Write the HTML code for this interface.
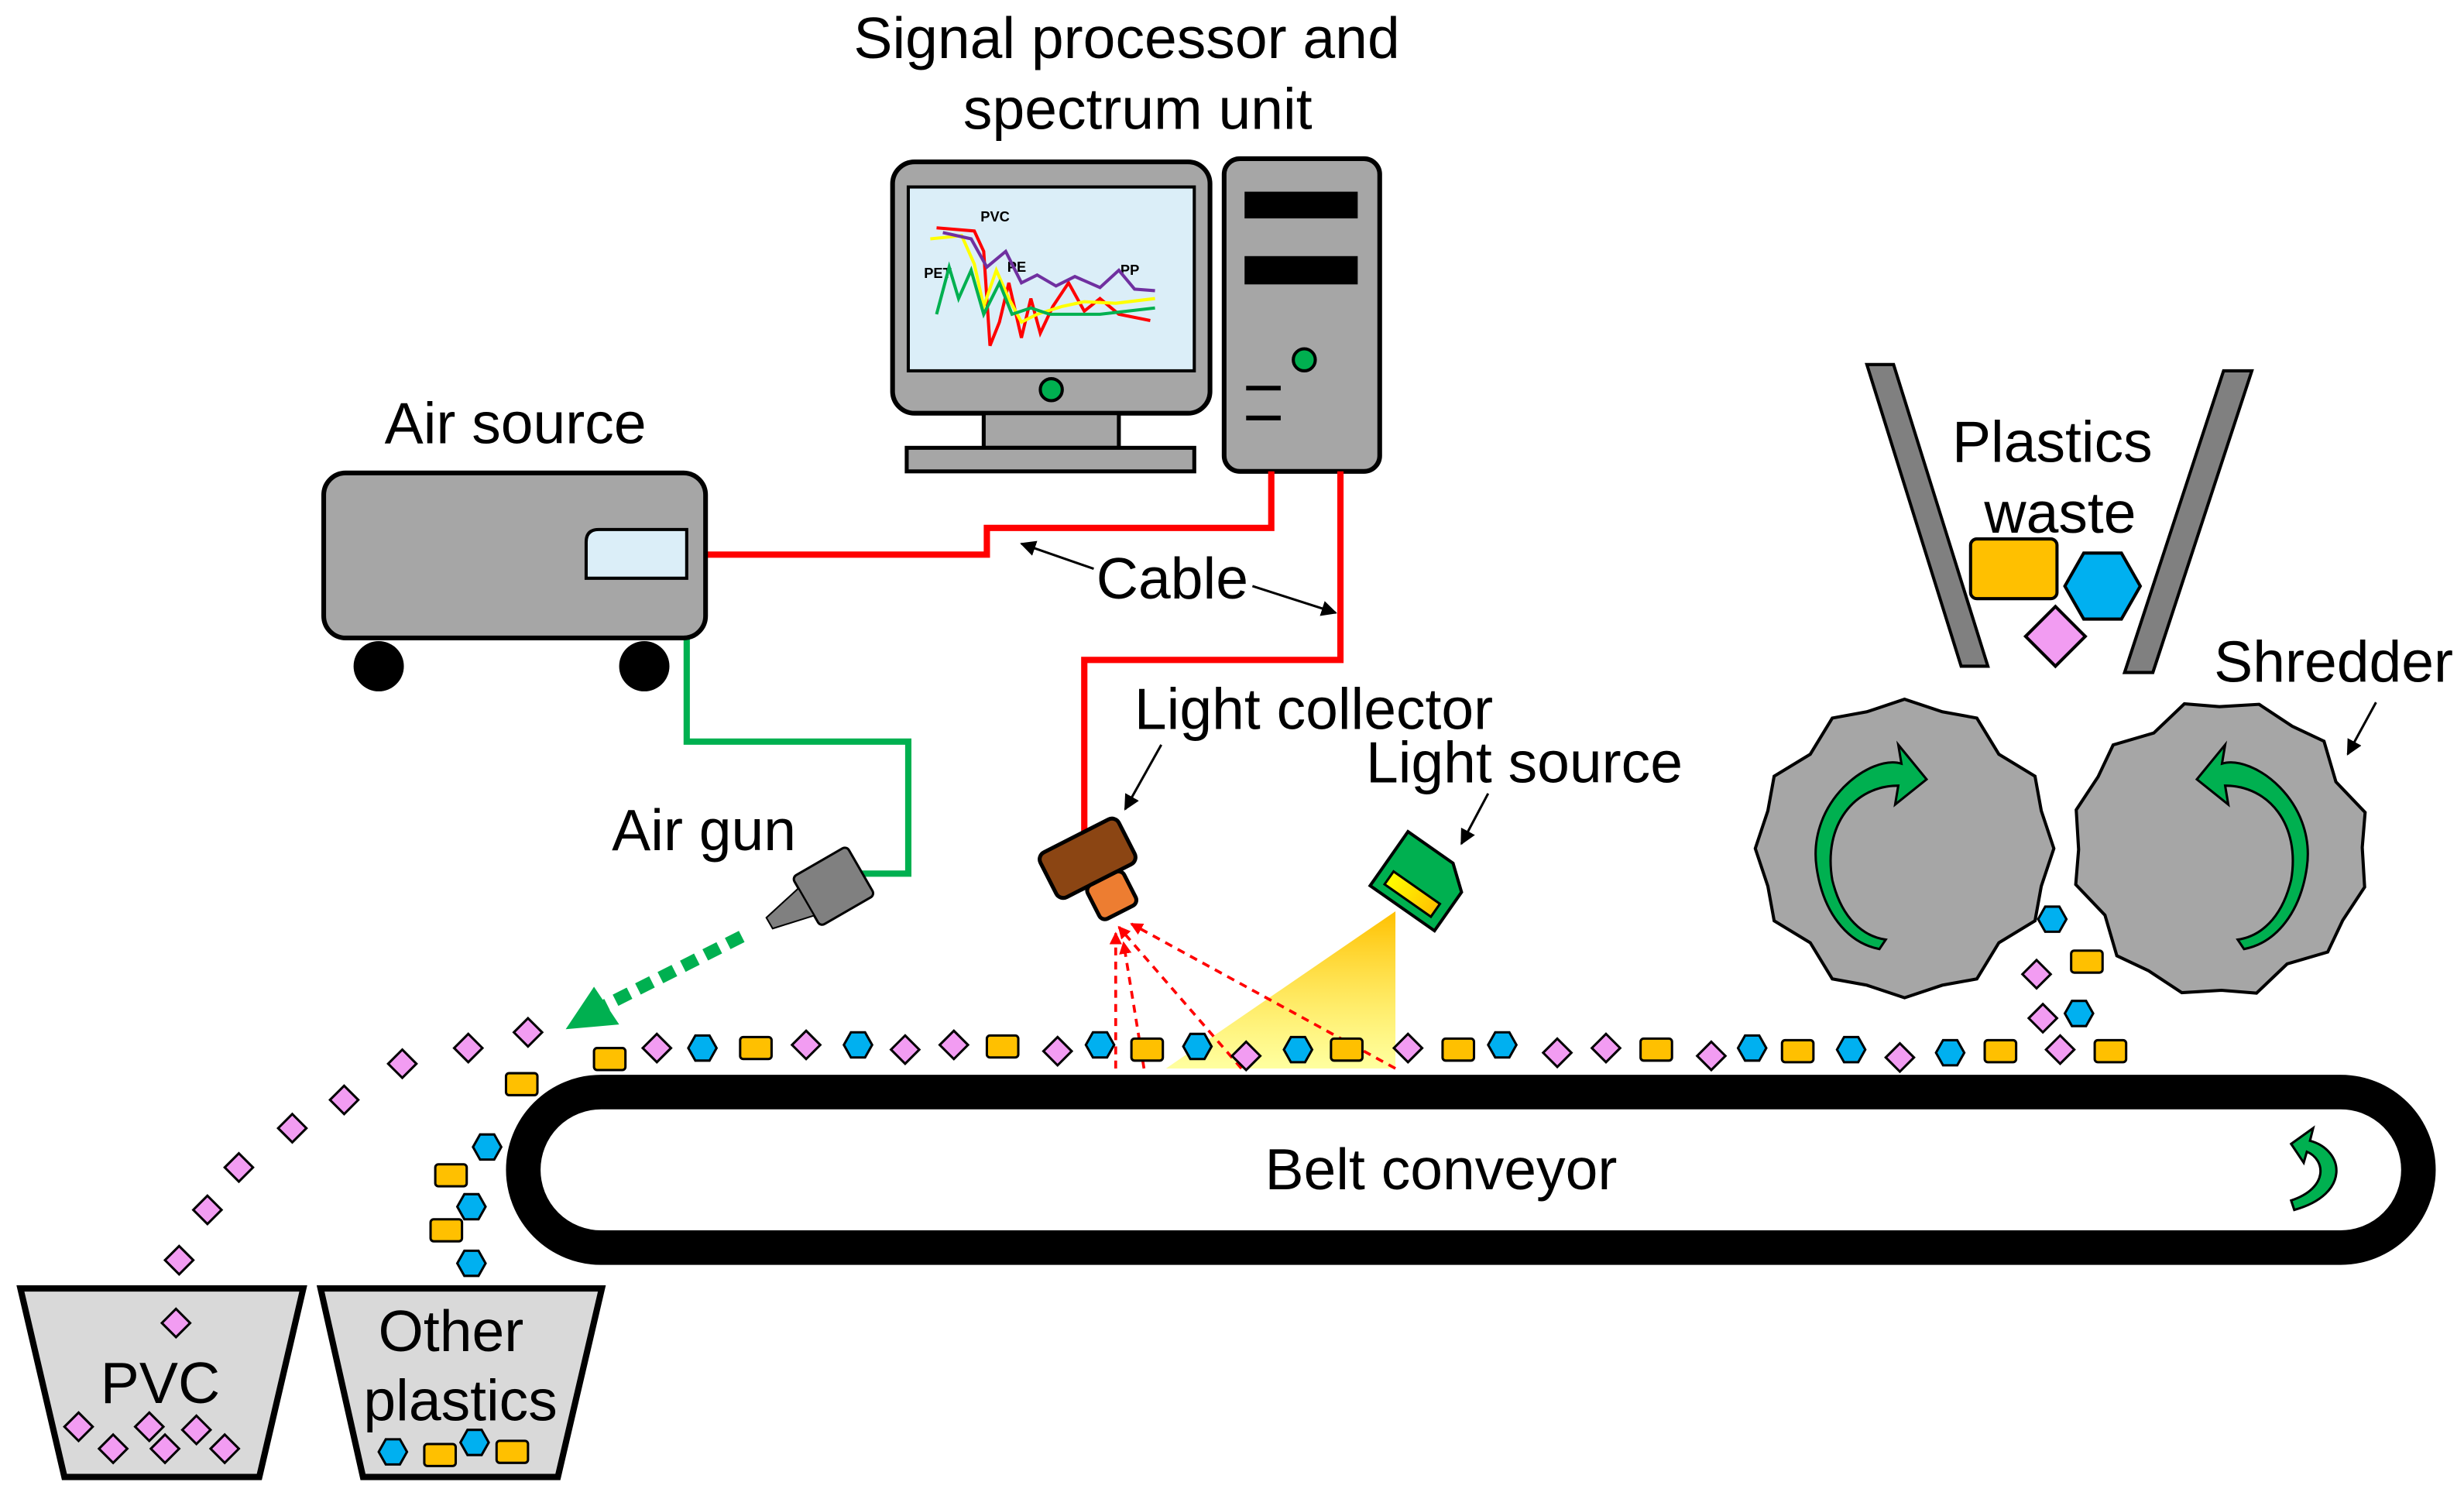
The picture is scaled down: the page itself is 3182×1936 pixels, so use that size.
<!DOCTYPE html>
<html><head><meta charset="utf-8"><style>
html,body{margin:0;padding:0;background:#fff;}
svg{display:block;}
text{font-family:"Liberation Sans",Arial,sans-serif;fill:#000;}
</style></head><body>
<svg width="3182" height="1936" viewBox="0 0 1568 954" preserveAspectRatio="none" xmlns="http://www.w3.org/2000/svg">
<defs>
<polygon id="D" points="0,-9 9,0 0,9 -9,0" fill="#f29cf2" stroke="#000" stroke-width="1.5"/>
<polygon id="H" points="-9,0 -4.5,-8 4.5,-8 9,0 4.5,8 -4.5,8" fill="#00b0f0" stroke="#000" stroke-width="1.5"/>
<rect id="Y" x="-10" y="-7" width="20" height="14" rx="2" fill="#ffc000" stroke="#000" stroke-width="1.5"/>
<marker id="ah" markerWidth="10" markerHeight="10" refX="9" refY="5" orient="auto" markerUnits="userSpaceOnUse"><path d="M0,0 L10,5 L0,10z" fill="#000"/></marker>
<marker id="ar" markerWidth="8" markerHeight="8" refX="7" refY="4" orient="auto" markerUnits="userSpaceOnUse"><path d="M0,0 L8,4 L0,8z" fill="#f00"/></marker>
<linearGradient id="beam" x1="0" y1="0" x2="0" y2="1"><stop offset="0" stop-color="#ffc000"/><stop offset="1" stop-color="#ffff60" stop-opacity="0.6"/></linearGradient>
<linearGradient id="lamp" x1="0" y1="0" x2="1" y2="0"><stop offset="0" stop-color="#ffff00"/><stop offset="1" stop-color="#ffc000"/></linearGradient>
</defs>

<text x="717" y="37" font-size="37" text-anchor="middle">Signal processor and</text>
<text x="724" y="82" font-size="37" text-anchor="middle">spectrum unit</text>

<rect x="568" y="103" width="202" height="160" rx="14" fill="#a6a6a6" stroke="#000" stroke-width="3"/>
<rect x="578" y="119" width="182" height="117" fill="#dbeef8" stroke="#000" stroke-width="2"/>
<circle cx="669" cy="248" r="7" fill="#00b050" stroke="#000" stroke-width="2"/>
<rect x="626" y="263" width="86" height="22" fill="#a6a6a6" stroke="#000" stroke-width="2.5"/>
<rect x="577" y="285" width="183" height="15" fill="#a6a6a6" stroke="#000" stroke-width="2.5"/>
<text x="624" y="141" font-size="9" font-weight="bold">PVC</text>
<text x="641" y="173" font-size="9" font-weight="bold">PE</text>
<text x="588" y="177" font-size="9" font-weight="bold">PET</text>
<text x="713" y="175" font-size="9" font-weight="bold">PP</text>
<polyline points="596,145 620,147 626,160 630,220 636,205 642,180 650,215 656,190 662,212 670,195 680,180 690,198 700,190 712,200 732,204" fill="none" stroke="#f00" stroke-width="2"/>
<polyline points="592,152 612,150 620,168 626,195 634,172 642,190 650,205 660,200 676,195 690,192 710,193 735,190" fill="none" stroke="#ffff00" stroke-width="2"/>
<polyline points="596,200 604,170 610,190 618,172 626,200 636,180 644,200 656,196 668,200 700,200 735,196" fill="none" stroke="#00b050" stroke-width="2"/>
<polyline points="600,148 618,152 628,170 640,160 650,180 660,175 672,182 684,176 700,183 712,172 722,184 735,185" fill="none" stroke="#7030a0" stroke-width="2"/>

<rect x="779" y="101" width="99" height="199" rx="10" fill="#a6a6a6" stroke="#000" stroke-width="3"/>
<rect x="792" y="122" width="72" height="17" fill="#000"/>
<rect x="792" y="163" width="72" height="18" fill="#000"/>
<circle cx="830" cy="229" r="7" fill="#00b050" stroke="#000" stroke-width="2"/>
<line x1="793" y1="247" x2="815" y2="247" stroke="#000" stroke-width="3"/>
<line x1="793" y1="266" x2="815" y2="266" stroke="#000" stroke-width="3"/>

<polyline points="449,353 628,353 628,336 809,336 809,300" fill="none" stroke="#f00" stroke-width="4"/>
<polyline points="853,300 853,420 690,420 690,530" fill="none" stroke="#f00" stroke-width="4"/>
<polyline points="437,406 437,472 578,472 578,556 546,556" fill="none" stroke="#00b050" stroke-width="4"/>

<text x="328" y="282" font-size="37" text-anchor="middle">Air source</text>
<rect x="206" y="301" width="243" height="105" rx="14" fill="#a6a6a6" stroke="#000" stroke-width="3"/>
<path d="M373,345 Q373,337 381,337 L437,337 L437,368 L373,368Z" fill="#dbeef8" stroke="#000" stroke-width="2"/>
<circle cx="241" cy="424" r="16" fill="#000"/>
<circle cx="410" cy="424" r="16" fill="#000"/>

<text x="746" y="381" font-size="37" text-anchor="middle">Cable</text>
<line x1="696" y1="362" x2="650" y2="346" stroke="#000" stroke-width="1.5" marker-end="url(#ah)"/>
<line x1="797" y1="373" x2="850" y2="390" stroke="#000" stroke-width="1.5" marker-end="url(#ah)"/>

<text x="448" y="541" font-size="37" text-anchor="middle">Air gun</text>
<g transform="translate(520,570) rotate(-30)">
<rect x="-8" y="-18" width="40" height="36" rx="3" fill="#808080" stroke="#000" stroke-width="1.5"/>
<polygon points="-8,-10 -35,-4 -35,4 -8,10" fill="#808080" stroke="#000" stroke-width="1"/>
</g>
<line x1="472" y1="596" x2="385" y2="640" stroke="#00b050" stroke-width="8" stroke-dasharray="10,6"/>
<polygon points="360,655 378,628 394,652" fill="#00b050"/>

<text x="836" y="464" font-size="37" text-anchor="middle">Light collector</text>
<line x1="739" y1="474" x2="716" y2="515" stroke="#000" stroke-width="1.5" marker-end="url(#ah)"/>
<g transform="translate(693,548) rotate(-27)">
<rect x="-28" y="-18" width="56" height="32" rx="5" fill="#8b4513" stroke="#000" stroke-width="2.5"/>
<rect x="-10" y="14" width="26" height="24" rx="4" fill="#ed7d31" stroke="#000" stroke-width="2.5"/>
</g>

<text x="970" y="498" font-size="37" text-anchor="middle">Light source</text>
<line x1="947" y1="505" x2="930" y2="537" stroke="#000" stroke-width="1.5" marker-end="url(#ah)"/>
<g transform="translate(905,560) rotate(35)">
<path d="M-25,-20 L10,-20 L25,-8 L25,22 L-25,22Z" fill="#00b050" stroke="#000" stroke-width="2"/>
<rect x="-18" y="6" width="36" height="10" fill="url(#lamp)" stroke="#000" stroke-width="1.5"/>
</g>
<polygon points="888,580 888,680 742,680" fill="url(#beam)"/>

<g stroke="#f00" stroke-width="1.8" stroke-dasharray="5,4" fill="none">
<line x1="710" y1="680" x2="710" y2="594" marker-end="url(#ar)"/>
<line x1="728" y1="680" x2="715" y2="600" marker-end="url(#ar)"/>
<line x1="790" y1="680" x2="712" y2="590" marker-end="url(#ar)"/>
<line x1="888" y1="680" x2="720" y2="588" marker-end="url(#ar)"/>
</g>

<polygon points="1188,232 1205,232 1265,424 1248,424" fill="#808080" stroke="#000" stroke-width="2"/>
<polygon points="1415,236 1433,236 1370,428 1352,428" fill="#808080" stroke="#000" stroke-width="2"/>
<text x="1306" y="294" font-size="37" text-anchor="middle">Plastics</text>
<text x="1311" y="339" font-size="37" text-anchor="middle">waste</text>
<rect x="1254" y="343" width="55" height="38" rx="4" fill="#ffc000" stroke="#000" stroke-width="2"/>
<polygon points="1314,373 1326,352 1350,352 1362,373 1350,394 1326,394" fill="#00b0f0" stroke="#000" stroke-width="2"/>
<polygon points="1308,386 1327,405 1308,424 1289,405" fill="#f29cf2" stroke="#000" stroke-width="2"/>
<text x="1485" y="434" font-size="37" text-anchor="middle">Shredder</text>
<line x1="1512" y1="447" x2="1494" y2="480" stroke="#000" stroke-width="1.5" marker-end="url(#ah)"/>

<g transform="translate(1212,540)" fill="#a6a6a6" stroke="#000" stroke-width="2">
<polygon points="0,-95 24,-87 46,-83 60,-60 83,-46 87,-24 95,0 87,24 83,46 60,60 46,83 24,87 0,95 -24,87 -46,83 -60,60 -83,46 -87,24 -95,0 -87,-24 -83,-46 -60,-60 -46,-83 -24,-87"/>
</g>
<g transform="translate(1413,540) rotate(15)" fill="#a6a6a6" stroke="#000" stroke-width="2">
<polygon points="0,-95 24,-87 46,-83 60,-60 83,-46 87,-24 95,0 87,24 83,46 60,60 46,83 24,87 0,95 -24,87 -46,83 -60,60 -83,46 -87,24 -95,0 -87,-24 -83,-46 -60,-60 -46,-83 -24,-87"/>
</g>
<path d="M1156,552 C1150,510 1190,480 1210,486 L1208,474 L1226,496 L1206,512 L1208,500 C1180,500 1160,525 1166,560 C1172,585 1186,596 1200,598 L1196,604 C1175,600 1160,580 1156,552Z" fill="#00b050" stroke="#000" stroke-width="1.5"/>
<path d="M1468,552 C1474,510 1434,480 1414,486 L1416,474 L1398,496 L1418,512 L1416,500 C1444,500 1464,525 1458,560 C1452,585 1438,596 1424,598 L1428,604 C1449,600 1464,580 1468,552Z" fill="#00b050" stroke="#000" stroke-width="1.5"/>

<rect x="333" y="695" width="1206" height="99" rx="49.5" fill="#fff" stroke="#000" stroke-width="22"/>
<text x="917" y="757" font-size="37" text-anchor="middle">Belt conveyor</text>
<path d="M1458,728 L1472,718 L1470,726 C1492,732 1496,760 1460,770 L1458,764 C1482,756 1480,738 1468,733 L1466,740Z" fill="#00b050" stroke="#000" stroke-width="1.5"/>

<use href="#Y" x="388" y="674"/><use href="#D" x="418" y="667"/><use href="#H" x="447" y="667"/><use href="#Y" x="481" y="667"/>
<use href="#D" x="513" y="665"/><use href="#H" x="546" y="665"/><use href="#D" x="576" y="668"/><use href="#D" x="607" y="665"/>
<use href="#Y" x="638" y="666"/><use href="#D" x="673" y="669"/><use href="#H" x="700" y="665"/><use href="#Y" x="730" y="668"/>
<use href="#H" x="762" y="666"/><use href="#D" x="793" y="672"/><use href="#H" x="826" y="668"/><use href="#Y" x="857" y="668"/>
<use href="#D" x="896" y="667"/><use href="#Y" x="928" y="668"/><use href="#H" x="956" y="665"/><use href="#D" x="991" y="670"/>
<use href="#D" x="1022" y="667"/><use href="#Y" x="1054" y="668"/><use href="#D" x="1089" y="672"/><use href="#H" x="1115" y="667"/>
<use href="#Y" x="1144" y="669"/><use href="#H" x="1178" y="668"/><use href="#D" x="1209" y="673"/><use href="#H" x="1241" y="670"/>
<use href="#Y" x="1273" y="669"/><use href="#D" x="1311" y="668"/><use href="#Y" x="1343" y="669"/>
<use href="#H" x="1306" y="585"/><use href="#Y" x="1328" y="612"/><use href="#D" x="1296" y="620"/><use href="#H" x="1323" y="645"/><use href="#D" x="1300" y="648"/>
<use href="#D" x="336" y="657"/><use href="#D" x="298" y="667"/><use href="#D" x="256" y="677"/><use href="#D" x="219" y="700"/>
<use href="#D" x="186" y="718"/><use href="#D" x="152" y="743"/><use href="#D" x="132" y="770"/><use href="#D" x="114" y="802"/>
<use href="#Y" x="332" y="690"/><use href="#H" x="310" y="730"/><use href="#Y" x="287" y="748"/><use href="#H" x="300" y="768"/>
<use href="#Y" x="284" y="783"/><use href="#H" x="300" y="804"/>

<polygon points="13,820 193,820 165,940 41,940" fill="#d9d9d9" stroke="#000" stroke-width="4"/>
<polygon points="204,820 383,820 355,940 231,940" fill="#d9d9d9" stroke="#000" stroke-width="4"/>
<use href="#D" x="112" y="842"/>
<text x="102" y="893" font-size="37" text-anchor="middle">PVC</text>
<text x="287" y="860" font-size="37" text-anchor="middle">Other</text>
<text x="293" y="904" font-size="37" text-anchor="middle">plastics</text>
<use href="#D" x="50" y="908"/><use href="#D" x="72" y="922"/><use href="#D" x="95" y="908"/><use href="#D" x="105" y="922"/><use href="#D" x="125" y="910"/><use href="#D" x="143" y="922"/>
<use href="#H" x="250" y="924"/><use href="#Y" x="280" y="926"/><use href="#H" x="302" y="918"/><use href="#Y" x="326" y="924"/>
</svg>
</body></html>
